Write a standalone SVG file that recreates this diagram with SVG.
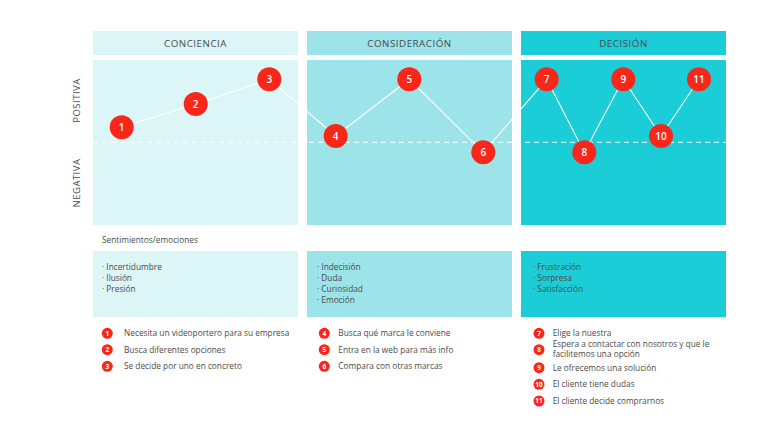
<svg xmlns="http://www.w3.org/2000/svg" width="777" height="421" viewBox="0 0 777 421">
<style>
text{font-family:"Open Sans","Liberation Sans",sans-serif;fill:#4a4a4a}
.hd{font-size:9.8px;letter-spacing:0.5px;text-anchor:middle}
.ax{font-size:9.5px;letter-spacing:0.5px;text-anchor:middle}
.sm{font-size:8.3px}
.c1{fill:#dcf5f7}.c2{fill:#9ce4ea}.c3{fill:#1bcdd6}
.pt circle{fill:#f9261a}
.pt text{fill:#fff;font-size:10px;font-weight:600;text-anchor:middle}
.lg circle{fill:#f9261a}
.lg text.n{fill:#fff;font-size:6.5px;font-weight:bold;text-anchor:middle}
</style>
<rect width="777" height="421" fill="#fff"/>
<g id="col-conciencia">
<rect class="c1" x="93" y="31" width="205" height="24"/>
<text class="hd" x="195.5" y="47">CONCIENCIA</text>
<rect class="c1" x="93" y="60" width="205" height="165"/>
<rect class="c1" x="93" y="251" width="205" height="66"/>
<text class="sm" x="102" y="270">· Incertidumbre</text>
<text class="sm" x="102" y="281">· Ilusión</text>
<text class="sm" x="102" y="292">· Presión</text>
</g>
<g id="col-consideracion">
<rect class="c2" x="307" y="31" width="205" height="24"/>
<text class="hd" x="409.5" y="47">CONSIDERACIÓN</text>
<rect class="c2" x="307" y="60" width="205" height="165"/>
<rect class="c2" x="307" y="251" width="205" height="66"/>
<text class="sm" x="317" y="270">· Indecisión</text>
<text class="sm" x="317" y="281">· Duda</text>
<text class="sm" x="317" y="292">· Curiosidad</text>
<text class="sm" x="317" y="303">· Emoción</text>
</g>
<g id="col-decision">
<rect class="c3" x="521" y="31" width="205" height="24"/>
<text class="hd" x="623.5" y="47">DECISIÓN</text>
<rect class="c3" x="521" y="60" width="205" height="165"/>
<rect class="c3" x="521" y="251" width="205" height="66"/>
<text class="sm" x="533" y="270">· Frustración</text>
<text class="sm" x="533" y="281">· Sorpresa</text>
<text class="sm" x="533" y="292">· Satisfacción</text>
</g>
<g id="axis">
<text class="ax" transform="translate(80,100.5) rotate(-90)">POSITIVA</text>
<text class="ax" transform="translate(80,183) rotate(-90)">NEGATIVA</text>
<text class="sm" x="102" y="243">Sentimientos/emociones</text>
</g>
<g id="connectors" fill="none" stroke="#fff">
<line x1="93" y1="142.3" x2="726" y2="142.3" stroke-width="1" stroke-dasharray="5,4"/>
<polyline stroke-width="1.1" points="121.7,127.3 195.7,104 269.3,79.3 335.7,136 409.3,79.3 483.3,152.3 546.7,79.3 584.3,152.3 623.3,79.3 661,136 699,79.3"/>
</g>
<g id="p1" class="pt"><circle cx="121.7" cy="127.3" r="12"/><text x="121.7" y="130.8">1</text></g>
<g id="p2" class="pt"><circle cx="195.7" cy="104" r="12"/><text x="195.7" y="107.5">2</text></g>
<g id="p3" class="pt"><circle cx="269.3" cy="79.3" r="12"/><text x="269.3" y="82.8">3</text></g>
<g id="p4" class="pt"><circle cx="335.7" cy="136" r="12"/><text x="335.7" y="139.5">4</text></g>
<g id="p5" class="pt"><circle cx="409.3" cy="79.3" r="12"/><text x="409.3" y="82.8">5</text></g>
<g id="p6" class="pt"><circle cx="483.3" cy="152.3" r="12"/><text x="483.3" y="155.8">6</text></g>
<g id="p7" class="pt"><circle cx="546.7" cy="79.3" r="12"/><text x="546.7" y="82.8">7</text></g>
<g id="p8" class="pt"><circle cx="584.3" cy="152.3" r="12"/><text x="584.3" y="155.8">8</text></g>
<g id="p9" class="pt"><circle cx="623.3" cy="79.3" r="12"/><text x="623.3" y="82.8">9</text></g>
<g id="p10" class="pt"><circle cx="661" cy="136" r="12"/><text x="661" y="139.5">10</text></g>
<g id="p11" class="pt"><circle cx="699" cy="79.3" r="12"/><text x="699" y="82.8">11</text></g>
<g id="legend" class="lg">
<circle cx="107.3" cy="333.3" r="5.5"/><text class="n" x="107.3" y="335.6">1</text><text class="sm" x="124" y="336.2">Necesita un videoportero para su empresa</text>
<circle cx="107.3" cy="349.7" r="5.5"/><text class="n" x="107.3" y="352">2</text><text class="sm" x="124" y="352.6">Busca diferentes opciones</text>
<circle cx="107.3" cy="366.3" r="5.5"/><text class="n" x="107.3" y="368.6">3</text><text class="sm" x="124" y="369.2">Se decide por uno en concreto</text>
<circle cx="324.3" cy="333.3" r="5.5"/><text class="n" x="324.3" y="335.6">4</text><text class="sm" x="338.3" y="336.2">Busca qué marca le conviene</text>
<circle cx="324.3" cy="349.7" r="5.5"/><text class="n" x="324.3" y="352">5</text><text class="sm" x="338.3" y="352.6">Entra en la web para más info</text>
<circle cx="324.3" cy="366.3" r="5.5"/><text class="n" x="324.3" y="368.6">6</text><text class="sm" x="338.3" y="369.2">Compara con otras marcas</text>
<circle cx="539" cy="333.3" r="5.5"/><text class="n" x="539" y="335.6">7</text><text class="sm" x="552.7" y="336.2">Elige la nuestra</text>
<circle cx="539" cy="349.7" r="5.5"/><text class="n" x="539" y="352">8</text><text class="sm" x="552.7" y="347">Espera a contactar con nosotros y que le</text><text class="sm" x="552.7" y="357.2">facilitemos una opción</text>
<circle cx="539" cy="367.7" r="5.5"/><text class="n" x="539" y="370">9</text><text class="sm" x="552.7" y="370.6">Le ofrecemos una solución</text>
<circle cx="539" cy="384.3" r="5.5"/><text class="n" x="539" y="386.6">10</text><text class="sm" x="552.7" y="387.2">El cliente tiene dudas</text>
<circle cx="539" cy="401" r="5.5"/><text class="n" x="539" y="403.3">11</text><text class="sm" x="552.7" y="403.9">El cliente decide comprarnos</text>
</g>
</svg>
